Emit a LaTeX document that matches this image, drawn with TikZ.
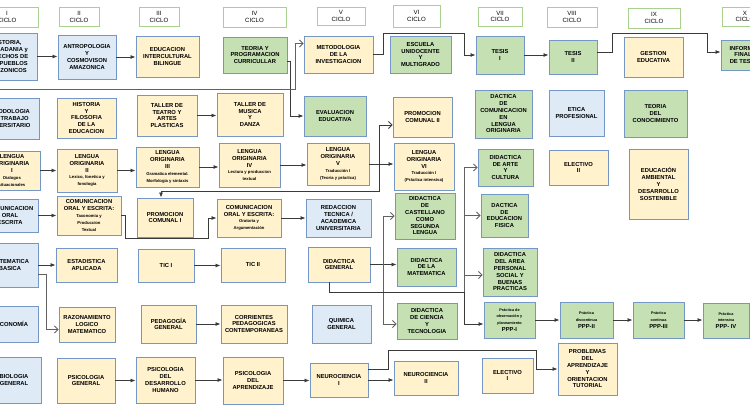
\documentclass[tikz,border=0pt]{standalone}
\usepackage{fontspec}
\setmainfont{Liberation Sans}
\usetikzlibrary{arrows.meta,calc}
\definecolor{azulf}{HTML}{DEEAF6}
\definecolor{amarf}{HTML}{FFF2CC}
\definecolor{verdef}{HTML}{C5E0B3}
\definecolor{borde}{HTML}{7597C6}
\definecolor{verdeb}{HTML}{A9D18E}
\definecolor{linea}{HTML}{3A3A3A}
\newcommand{\chico}{\fontsize{4.2}{5.2}\selectfont}
\newcommand{\mini}{\fontsize{3.8}{4.8}\selectfont}

\begin{document}
\begin{tikzpicture}[x=1pt,y=-1pt,
    ciclo/.style={draw=verdeb,line width=0.9pt,fill=white,align=center,inner sep=0pt,
      font=\fontsize{6.1}{6.6}\selectfont},
    caja/.style={draw=borde,line width=0.9pt,align=center,inner sep=1pt,
      font=\bfseries\fontsize{5.8}{6.8}\selectfont},
    azul/.style={caja,fill=azulf},
    amar/.style={caja,fill=amarf},
    verde/.style={caja,fill=verdef},
    wh/.style 2 args={minimum width=#1pt,minimum height=#2pt},
    flecha/.style={linea,line width=0.8pt,-{Latex[length=5pt,width=4pt]}},
    abierta/.style={linea!80,line width=0.8pt,-{Straight Barb[length=3.5pt,width=7pt]}}]
    \useasboundingbox (0,0) rectangle (750,420);

    % ciclos
    \node[ciclo,wh={62}{20}] (c1) at (7,17) {I\\CICLO};
    \node[ciclo,wh={40}{19}] (c2) at (79,17) {II\\CICLO};
    \node[ciclo,wh={40}{19}] (c3) at (159,17) {III\\CICLO};
    \node[ciclo,wh={63}{20}] (c4) at (254.5,17) {IV\\CICLO};
    \node[ciclo,wh={48}{18}] (c5) at (341,16) {V\\CICLO};
    \node[ciclo,wh={47}{22}] (c6) at (416.5,16) {VI\\CICLO};
    \node[ciclo,wh={44}{19}] (c7) at (500,16.5) {VII\\CICLO};
    \node[ciclo,wh={50}{20}] (c8) at (572,17) {VIII\\CICLO};
    \node[ciclo,wh={52}{20}] (c9) at (654,18) {IX\\CICLO};
    \node[ciclo,wh={46}{19}] (c10) at (745,16.5) {X\\CICLO};

    % I
    \node[azul,wh={60}{47}] (A1) at (7,56.5) {HISTORIA,\\CIUDADANIA y\\DERECHOS DE\\LOS PUEBLOS\\AMAZONICOS};
    \node[azul,wh={62}{41}] (A2) at (8,118.5) {METODOLOGIA\\DEL TRABAJO\\UNIVERSITARIO};
    \node[amar,wh={56}{39}] (A3) at (12,170.5) {LENGUA\\ORIGINARIA\\I\\\chico Dialogos\\\chico situacionales};
    \node[azul,wh={56}{33}] (A4) at (10,215.5) {COMUNICACION\\ORAL\\ESCRITA};
    \node[azul,wh={56}{44}] (A5) at (10,265) {MATEMATICA\\BASICA};
    \node[azul,wh={52}{36}] (A6) at (12,324) {ECONOMÍA};
    \node[azul,wh={54}{46}] (A7) at (14,380) {BIOLOGIA\\GENERAL};

    % II
    \node[azul,wh={58}{44}] (B1) at (87,57) {ANTROPOLOGIA\\Y\\COSMOVISON\\AMAZONICA};
    \node[amar,wh={59}{40}] (B2) at (86.5,118) {HISTORIA\\Y\\FILOSOFIA\\DE LA\\EDUCACION};
    \node[amar,wh={60}{43}] (B3) at (87,170.5) {LENGUA\\ORIGINARIA\\II\\\chico Lexico, fonetica y\\\chico fonologia};
    \node[amar,wh={64}{39}] (B4) at (89,215.5) {COMUNICACION\\ORAL Y ESCRITA:\\\chico Taxonomia y\\\chico Produccion\\\chico Textual};
    \node[amar,wh={61}{34}] (B5) at (86.5,265) {ESTADISTICA\\APLICADA};
    \node[amar,wh={56}{35}] (B6) at (87,324.5) {RAZONAMIENTO\\LOGICO\\MATEMATICO};
    \node[amar,wh={58}{45}] (B7) at (86,380.5) {PSICOLOGIA\\GENERAL};

    % III
    \node[amar,wh={63}{41}] (C1) at (167.5,56.5) {EDUCACION\\INTERCULTURAL\\BILINGUE};
    \node[amar,wh={60}{41}] (C2) at (167,115.5) {TALLER DE\\TEATRO Y\\ARTES\\PLASTICAS};
    \node[amar,wh={63}{40}] (C3) at (167.5,167) {LENGUA\\ORIGINARIA\\III\\\chico Gramatica elemental.\\\chico Morfologia y sintaxis};
    \node[amar,wh={56}{39}] (C4) at (165,217.5) {PROMOCION\\COMUNAL I};
    \node[amar,wh={56}{33}] (C5) at (166,265.5) {TIC I};
    \node[amar,wh={55}{38}] (C6) at (168.5,324) {PEDAGOGÍA\\GENERAL};
    \node[amar,wh={59}{46}] (C7) at (165.5,380) {PSICOLOGIA\\DEL\\DESARROLLO\\HUMANO};

    % IV
    \node[verde,wh={64}{36}] (D1) at (255,55) {TEORIA Y\\PROGRAMACION\\CURRICULLAR};
    \node[amar,wh={66}{43}] (D2) at (250,114.5) {TALLER DE\\MUSICA\\Y\\DANZA};
    \node[amar,wh={61}{44}] (D3) at (249.5,165) {LENGUA\\ORIGINARIA\\IV\\\chico Lectura y produccion\\\chico textual};
    \node[amar,wh={64}{38}] (D4) at (249,218) {COMUNICACION\\ORAL Y ESCRITA:\\\chico Oratoria y\\\chico Argumentación};
    \node[amar,wh={64}{34}] (D5) at (253,265) {TIC II};
    \node[amar,wh={66}{38}] (D6) at (254,324) {CORRIENTES\\PEDAGOGICAS\\CONTEMPORANEAS};
    \node[amar,wh={60}{47}] (D7) at (253,380.5) {PSICOLOGIA\\DEL\\APRENDIZAJE};

    % V
    \node[amar,wh={69}{37}] (E1) at (338.5,54.5) {METODOLOGIA\\DE LA\\INVESTIGACION};
    \node[verde,wh={62}{40}] (E2) at (335,116) {EVALUACION\\EDUCATIVA};
    \node[amar,wh={62}{42}] (E3) at (338,164) {LENGUA\\ORIGINARIA\\V\\\chico Traducción I\\\chico (Teoria y práctica)};
    \node[azul,wh={65}{38}] (E4) at (338.5,218) {REDACCION\\TECNICA /\\ACADEMICA\\UNIVERSITARIA};
    \node[amar,wh={62}{35}] (E5) at (339,264.5) {DIDACTICA\\GENERAL};
    \node[azul,wh={59}{38}] (E6) at (341.5,324) {QUIMICA\\GENERAL};
    \node[amar,wh={58}{34}] (E7) at (339,380) {NEUROCIENCIA\\I};

    % VI
    \node[verde,wh={61}{37}] (F1) at (420.5,54.5) {ESCUELA\\UNIDOCENTE\\Y\\MULTIGRADO};
    \node[amar,wh={59}{40}] (F2) at (422.5,117) {PROMOCION\\COMUNAL II};
    \node[amar,wh={60}{47}] (F3) at (424,166.5) {LENGUA\\ORIGINARIA\\VI\\\chico Traducción I\\\chico (Práctica intensiva)};
    \node[verde,wh={60}{46}] (F4) at (425,216) {DIDACTICA\\DE\\CASTELLANO\\COMO\\SEGUNDA\\LENGUA};
    \node[verde,wh={59}{38}] (F5) at (426.5,267) {DIDACTICA\\DE LA\\MATEMATICA};
    \node[verde,wh={60}{36}] (F6) at (427,321) {DIDACTICA\\DE CIENCIA\\Y\\TECNOLOGIA};
    \node[amar,wh={64}{34}] (F7) at (426,378) {NEUROCIENCIA\\II};

    % VII
    \node[verde,wh={48}{38}] (G1) at (500,55) {TESIS\\I};
    \node[verde,wh={57}{48}] (G2) at (503.5,114) {DACTICA\\DE\\COMUNICACION\\EN\\LENGUA\\ORIGINARIA};
    \node[verde,wh={55}{37}] (G3) at (505.5,167.5) {DIDACTICA\\DE ARTE\\Y\\CULTURA};
    \node[verde,wh={47}{43}] (G4) at (504.5,215.5) {DACTICA\\DE\\EDUCACION\\FISICA};
    \node[verde,wh={54}{48}] (G5) at (510,272) {DIDACTICA\\DEL AREA\\PERSONAL\\SOCIAL Y\\BUENAS\\PRACTICAS};
    \node[verde,wh={51}{36}] (G6) at (509.5,320) {\mini Práctica de\\\mini observación y\\\mini planeamiento\\PPP-I};
    \node[amar,wh={51}{35}] (G7) at (507.5,375.5) {ELECTIVO\\I};

    % VIII
    \node[verde,wh={48}{34}] (H1) at (573,57) {TESIS\\II};
    \node[azul,wh={55}{46}] (H2) at (576.5,113) {ETICA\\PROFESIONAL};
    \node[amar,wh={59}{35}] (H3) at (578.5,167.5) {ELECTIVO\\II};
    \node[verde,wh={53}{36}] (H6) at (586.5,320) {\mini Práctica\\\mini discontinua\\PPP-II};
    \node[amar,wh={59}{52}] (H7) at (587.5,369) {PROBLEMAS\\DEL\\APRENDIZAJE\\Y\\ORIENTACION\\TUTORIAL};

    % IX
    \node[amar,wh={59}{40}] (I1) at (653.5,57) {GESTION\\EDUCATIVA};
    \node[verde,wh={63}{47}] (I2) at (655.5,113.5) {TEORIA\\DEL\\CONOCIMIENTO};
    \node[amar,wh={59}{70}] (I3) at (658.5,184) {EDUCACIÓN\\AMBIENTAL\\Y\\DESARROLLO\\SOSTENIBLE};
    \node[verde,wh={51}{36}] (I6) at (658.5,320) {\mini Práctica\\\mini continua\\PPP-III};

    % X
    \node[verde,wh={44}{30}] (J1) at (743,55) {INFORME\\FINAL\\DE TESIS};
    \node[verde,wh={46}{35}] (J6) at (726,320.5) {\mini Práctica\\\mini intensiva\\PPP- IV};

    % flechas rectas
    \foreach \a/\b in {A1/B1,B1/C1,G1/H1,C2/D2,A3/B3,B3/C3,C3/D3,D3/E3,E3/F3,A4/B4,D4/E4,
        A5/B5,C5/D5,E5/F5,C6/D6,G6/H6,H6/I6,I6/J6,B7/C7,C7/D7,D7/E7,E7/F7}
        \draw[flecha] (\a.east) -- (\a.east -| \b.west);

    % flechas con quiebre
    \draw[flecha] (E1.east) -- ++(10,0) |- (464,33) |- (G1.west);
    \draw[flecha] ([yshift=5pt]H1.east) -- ++(15,0) |- (707,33) |- ([yshift=3pt]J1.west);
    \draw[flecha] ([yshift=-6pt]D1.east) -- ++(3,0) |- (E2.west);
    \draw[abierta] (A2.west) -- ++(-4,0) |- (295,89) |- ([yshift=11pt]E1.west);
    \draw[linea,line width=0.8pt,{Latex[length=5pt,width=4pt]}-{Straight Barb[length=3.5pt,width=7pt]}]
        ([xshift=-4pt]C4.north) |- (379,191) |- ([yshift=-8pt]F2.west);
    \draw[flecha] (B4.east) -- ++(4,0) |- (208,238) |- (D4.west);
    \draw[abierta] ([yshift=-9pt]A5.east) -- ++(8,0) |- ([yshift=-5pt]B6.west);
    \coordinate (r1) at ($(E5.east)+(13,0)$);
    \draw[abierta] (r1) |- (F4.west);
    \draw[abierta] (r1) |- ([yshift=-3pt]F6.west);
    \draw[linea,line width=0.8pt] ([xshift=-10pt]E5.south) |- (464,292) coordinate (r2);
    \draw[abierta] (r2) |- (G3.west);
    \draw[abierta] (r2) |- (G4.west);
    \draw[abierta] (r2) |- ([yshift=-3pt]G5.west);
    \draw[flecha] (r2) |- ([yshift=-4pt]G6.west);
    \draw[flecha] ([yshift=11pt]E7.east) -- ++(20,0) |- (536,350) |- (H7.west);
\end{tikzpicture}
\end{document}
